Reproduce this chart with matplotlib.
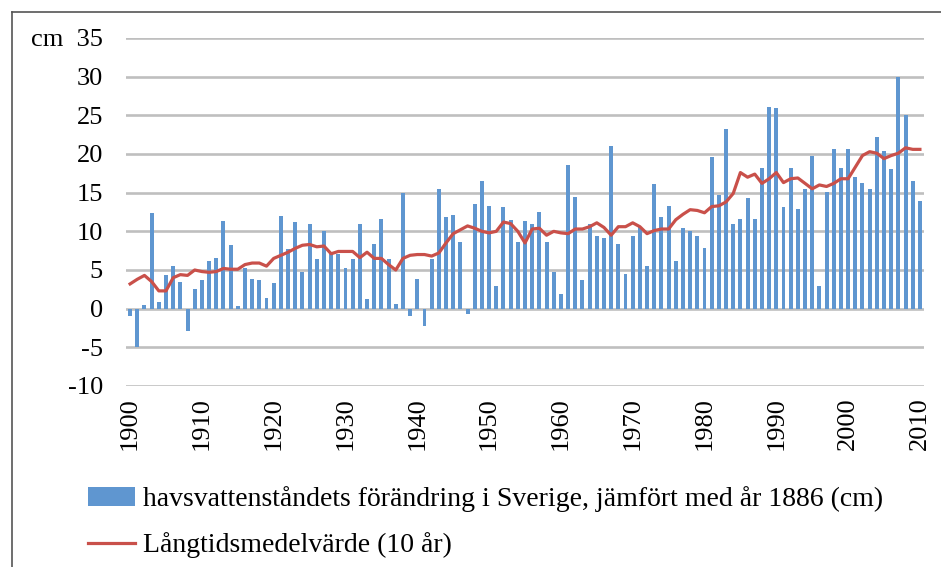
import numpy as np
import matplotlib
matplotlib.use('Agg')
import matplotlib.pyplot as plt
from matplotlib.patches import Patch
from matplotlib.lines import Line2D

# Data (cm, relative to 1886)
years = np.arange(1900, 2011)
sea_level = [
    -1.0, -5.0, 0.5, 12.4, 0.9, 4.3, 5.5, 3.5, -2.9, 2.5,      # 1900-1909
    3.7, 6.1, 6.6, 11.4, 8.2, 0.4, 5.3, 3.9, 3.7, 1.4,         # 1910-1919
    3.3, 12.0, 7.7, 11.2, 4.8, 11.0, 6.4, 10.0, 7.2, 7.1,      # 1920-1929
    5.3, 6.4, 11.0, 1.3, 8.4, 11.6, 6.4, 0.6, 14.9, -0.9,      # 1930-1939
    3.9, -2.3, 6.4, 15.5, 11.9, 12.1, 8.6, -0.7, 13.5, 16.5,   # 1940-1949
    13.3, 2.9, 13.1, 11.5, 8.6, 11.3, 11.0, 12.5, 8.6, 4.8,    # 1950-1959
    1.9, 18.6, 14.5, 3.7, 11.0, 9.4, 9.2, 21.0, 8.4, 4.5,      # 1960-1969
    9.4, 10.6, 5.5, 16.1, 11.9, 13.3, 6.1, 10.4, 10.0, 9.4,    # 1970-1979
    7.8, 19.6, 14.7, 23.2, 11.0, 11.6, 14.3, 11.6, 18.2, 26.1, # 1980-1989
    25.9, 13.1, 18.2, 12.9, 15.5, 19.8, 2.9, 15.1, 20.6, 18.2, # 1990-1999
    20.6, 17.0, 16.3, 15.5, 22.2, 20.4, 18.0, 30.0, 25.0, 16.5, # 2000-2009
    13.9,                                                      # 2010
]
long_term_mean = [
    3.2, 3.8, 4.3, 3.5, 2.3, 2.3, 4.0, 4.4, 4.3, 5.0,
    4.8, 4.7, 4.8, 5.2, 5.1, 5.1, 5.7, 5.9, 5.9, 5.5,
    6.5, 6.9, 7.3, 7.8, 8.2, 8.3, 8.0, 8.1, 7.1, 7.4,
    7.4, 7.4, 6.6, 7.3, 6.5, 6.5, 5.7, 5.0, 6.5, 6.9,
    7.0, 7.0, 6.8, 7.2, 8.5, 9.7, 10.2, 10.7, 10.4, 10.0,
    9.8, 10.0, 11.2, 11.0, 10.0, 8.5, 10.3, 10.4, 9.5, 10.0,
    9.8, 9.7, 10.3, 10.3, 10.6, 11.1, 10.5, 9.5, 10.6, 10.6,
    11.1, 10.6, 9.7, 10.1, 10.3, 10.3, 11.5, 12.2, 12.8, 12.7,
    12.4, 13.2, 13.3, 13.8, 14.9, 17.6, 17.0, 17.4, 16.2, 16.8,
    17.6, 16.3, 16.8, 16.9, 16.2, 15.5, 16.0, 15.8, 16.2, 16.8,
    16.8, 18.3, 19.8, 20.3, 20.1, 19.4, 19.8, 20.1, 20.8, 20.6,
    20.6,
]
y_ticks = [-10, -5, 0, 5, 10, 15, 20, 25, 30, 35]
y_labels = ['-10', '-5', '0', '5', '10', '15', '20', '25', '30', 'cm  35']
x_ticks = list(range(1900, 2011, 10))

bar_label = 'havsvattenståndets förändring i Sverige, jämfört med år 1886 (cm)'
line_label = 'Långtidsmedelvärde (10 år)'

blue = '#5f96d0'
red = '#c9504a'
grid_col = '#bfbfbf'

plt.rcParams['font.family'] = ['Liberation Serif', 'DejaVu Serif']

fig = plt.figure(figsize=(9.41, 5.67), dpi=100)
ax = fig.add_axes([126.5 / 941, 1 - 386 / 567, 797 / 941, 348 / 567])

ax.bar(years, sea_level, width=0.55, color=blue, zorder=2)
ax.plot(years, long_term_mean, color=red, lw=2.3, zorder=3)

ax.set_xlim(1899.5, 2010.5)
ax.set_ylim(-10, 35)
ax.set_yticks(y_ticks)
ax.set_yticklabels(y_labels, fontsize=19)
ax.set_xticks(x_ticks)
ax.set_xticklabels([str(x) for x in x_ticks], rotation=90, fontsize=19)
ax.tick_params(axis='both', length=0)
ax.tick_params(axis='y', pad=17)
ax.tick_params(axis='x', pad=8)
ax.grid(axis='y', color=grid_col, lw=1.9, zorder=0)
for s in ax.spines.values():
    s.set_visible(False)

handles = [Patch(facecolor=blue, edgecolor='none'),
           Line2D([], [], color=red, lw=2.3)]
fig.legend(handles, [bar_label, line_label], loc='upper left',
           bbox_to_anchor=(88 / 941, 1 - 486 / 567), frameon=False,
           fontsize=20, handlelength=1.69, handleheight=0.68,
           handletextpad=0.29, labelspacing=0.73, borderpad=0, borderaxespad=0)

# outer frame of the original screenshot
fig.add_artist(Line2D([12 / 941, 12 / 941], [0, 1 - 12 / 567], color='#555555', lw=1.2))
fig.add_artist(Line2D([12 / 941, 1], [1 - 12 / 567, 1 - 12 / 567], color='#555555', lw=1.2))

fig.savefig('out.png', dpi=100)
